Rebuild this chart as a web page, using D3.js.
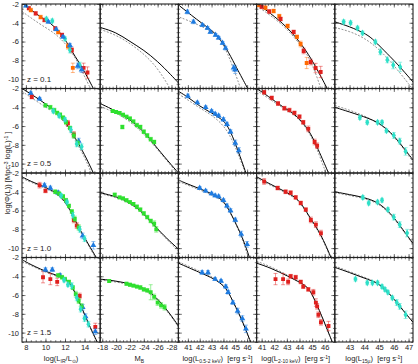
<!DOCTYPE html>
<html>
<head>
<meta charset="utf-8">
<script src="https://cdn.jsdelivr.net/npm/d3@7"></script>
<style>
  body { margin: 0; background: #fff; }
  svg { font-family: "Liberation Sans", Arial, sans-serif; }
</style>
</head>
<body>
<svg width="418" height="364"></svg>
<script>
// redshift rows and axis ticks
var redshifts = ["z = 0.1", "z = 0.5", "z = 1.0", "z = 1.5"];
var yTicks = [-2, -4, -6, -8, -10];
var xTicks = [
    [8, 10, 12, 14],
    [-18, -20, -22, -24, -26, -28],
    [41, 42, 43, 44, 45, 46],
    [41, 42, 43, 44, 45, 46],
    [43, 44, 45, 46, 47]
];

// model curves [x, logPhi], one list per row (z=0.1, 0.5, 1.0, 1.5)
var irSolid = [
    [[7.6,-1.9],[8.5,-2.6],[9.5,-3.4],[10.5,-4.0],[11.5,-5.0],[12.2,-6.1],[12.8,-7.2],[13.3,-8.0],[14.0,-9.2],[14.9,-11]],
    [[7.6,-2.0],[9,-2.9],[10.5,-4.0],[11.5,-4.8],[12.3,-6.0],[13,-7.2],[14,-9.0],[14.9,-11]],
    [[7.6,-2.4],[8.5,-2.9],[10,-3.5],[11.5,-4.3],[12.5,-5.8],[13.2,-7.4],[14,-8.9],[15.2,-11]],
    [[7.6,-2.2],[8,-2.5],[10,-3.5],[11.5,-4.0],[12.5,-4.6],[13.2,-6.1],[13.9,-7.8],[14.6,-9.5],[15.3,-11]]
];
var irDashed = [
    [[7.6,-2.8],[9.5,-4.2],[10.5,-4.8],[11.5,-5.6],[12.5,-6.8],[13.3,-8.2],[14.0,-9.7],[14.6,-11]],
    [[7.6,-2.3],[9,-3.3],[10.5,-4.3],[11.5,-5.0],[12.3,-6.2],[13,-7.4],[14,-9.3],[14.7,-11]],
    [[7.6,-2.55],[8.5,-3.0],[10,-3.6],[11.5,-4.4],[12.5,-5.9],[13.2,-7.5],[14,-9.0],[15.1,-11]],
    [[7.6,-2.4],[10,-3.6],[11.5,-4.1],[12.5,-4.7],[13.2,-6.2],[14.6,-9.6],[15.25,-11]]
];
var mbSolid = [
    [[-17.7,-4.5],[-20,-5.0],[-22,-6.0],[-24,-6.9],[-26,-8.1],[-28,-9.6],[-29,-10.4]],
    [[-17.7,-3.6],[-20,-4.4],[-22,-5.3],[-24,-6.6],[-25,-7.5],[-27,-9.3],[-29,-11]],
    [[-17.7,-4.1],[-20,-4.5],[-22,-5.1],[-24,-6.3],[-26,-8.0],[-27.8,-9.3],[-29,-10.1]],
    [[-17.7,-4.3],[-20,-4.5],[-22,-4.8],[-23.5,-5.1],[-25,-5.7],[-26.5,-6.8],[-28,-8.2],[-29,-9.3]]
];
var mbDashed = [
    [[-17.7,-4.7],[-20,-5.3],[-22,-6.2],[-24,-7.3],[-26,-8.8],[-27.8,-11]],
    [[-17.7,-3.9],[-20,-4.6],[-22,-5.5],[-24,-6.8],[-26,-8.5],[-28.8,-11]],
    [[-17.7,-4.2],[-20,-4.6],[-22,-5.2],[-24,-6.4],[-26,-8.1],[-29,-10.3]],
    [[-17.7,-4.4],[-20,-4.6],[-22,-4.9],[-24,-5.3],[-26,-6.5],[-28,-8.3],[-29,-9.4]]
];
var softSolid = [
    [[40.3,-2.2],[42.3,-4.2],[43.3,-5.0],[44.3,-6.8],[44.9,-8.3],[46.05,-11]],
    [[40.2,-2.3],[41,-2.9],[42,-3.9],[43,-4.6],[43.8,-5.2],[44.4,-6.0],[44.9,-7.5],[45.4,-9.2],[45.9,-11]],
    [[40.2,-2.7],[40.5,-2.95],[42.7,-4.0],[43.8,-4.7],[44.35,-5.6],[44.9,-7.0],[45.6,-8.8],[46.2,-11]],
    [[40.2,-2.6],[42,-3.6],[43.3,-4.3],[44,-5.0],[44.4,-5.6],[44.8,-6.7],[45.3,-7.9],[45.8,-9.4],[46.3,-11]]
];
var softDashed = [
    [[40.3,-3.4],[41.5,-4.0],[42.5,-4.6],[43.4,-5.2],[44.3,-6.9],[45.45,-11]],
    [[40.2,-2.6],[41,-3.2],[42,-4.1],[43,-4.8],[44.4,-6.3],[45.5,-9.8],[45.85,-11]],
    [[40.2,-2.9],[42.7,-4.15],[43.8,-4.8],[44.35,-5.7],[45,-7.3],[45.6,-9.0],[46.1,-11]],
    [[40.2,-2.45],[42,-3.45],[43.3,-4.2],[44,-4.95],[44.5,-5.8],[45.8,-9.4],[46.25,-11]]
];
var hardSolid = [
    [[40.6,-1.9],[41.7,-3.0],[43,-4.4],[44.3,-6.5],[45.1,-8.2],[46.2,-11]],
    [[40.6,-2.0],[41.5,-2.8],[42.7,-4.0],[43.5,-4.6],[44.2,-5.5],[44.8,-6.6],[45.3,-7.9],[46.3,-11]],
    [[40.6,-2.4],[41.7,-3.2],[42.9,-4.0],[43.7,-4.6],[44.1,-5.2],[44.5,-6.0],[44.9,-6.9],[45.7,-8.5],[46.5,-11]],
    [[40.6,-2.6],[41.7,-3.1],[43.1,-4.0],[44.1,-4.7],[44.7,-5.2],[45.1,-6.2],[45.7,-8.0],[46.6,-11]]
];
var hardDashed = [
    [[40.6,-2.2],[41.7,-3.2],[43,-4.6],[44.3,-6.7],[45,-8.3],[45.7,-11]],
    [[40.6,-2.2],[41.5,-3.0],[42.7,-4.1],[43.5,-4.7],[44.2,-5.6],[44.8,-6.8],[45.3,-8.1],[46.1,-11]],
    [[40.6,-2.55],[41.7,-3.3],[42.9,-4.1],[43.7,-4.7],[44.1,-5.3],[44.5,-6.1],[44.9,-7.0],[45.7,-8.6],[46.45,-11]],
    [[40.6,-2.4],[41.7,-2.95],[43.1,-3.9],[44.1,-4.65],[44.7,-5.2],[45.1,-6.2],[45.7,-8.0],[46.6,-11]]
];
var midSolid = [
    [[42,-3.9],[43,-4.4],[44,-5.1],[44.5,-5.6],[45.3,-6.9],[46.2,-8.3],[47.3,-10.3]],
    [[42,-4.0],[42.6,-4.3],[44,-5.0],[45.1,-5.7],[46,-7.0],[46.6,-8.2],[47.3,-9.6]],
    [[42,-4.0],[43,-4.3],[44,-4.6],[44.9,-5.1],[45.5,-5.9],[46,-6.7],[46.6,-8.0],[47.3,-9.5]],
    [[42,-3.05],[43,-3.6],[44,-4.2],[44.9,-4.7],[45.4,-5.4],[45.9,-6.2],[46.4,-7.2],[47.3,-8.9]]
];
var midDashed = [
    [[42,-4.5],[43,-4.9],[44,-5.6],[45,-6.8],[46,-8.5],[47.2,-10.9]],
    [[42,-3.8],[43,-4.3],[44,-4.9],[45,-5.7],[46,-7.0],[47.3,-9.8]],
    [[42,-4.1],[43,-4.4],[44,-4.7],[44.9,-5.2],[45.5,-6.0],[46,-6.8],[46.6,-8.1],[47.3,-9.6]],
    [[42,-2.9],[43,-3.5],[44,-4.1],[44.9,-4.65],[45.4,-5.35],[45.9,-6.15],[46.4,-7.15],[47.3,-8.9]]
];

// observed points [x, logPhi, error, survey]
var irPoints = [
    [[8.3,-2.45,0.15,"r"],[9.0,-3.0,0.2,"r"],[9.9,-3.7,0.2,"r"],[11.0,-4.6,0.2,"r"],[11.7,-5.3,0.2,"r"],[12.7,-6.9,0.3,"r"],[13.9,-8.8,0.5,"r"],[14.3,-9.3,0.6,"r"],
     [8.5,-2.65,0.2,"o"],[9.5,-3.4,0.2,"o"],[11.3,-5.0,0.2,"o"],[12.3,-6.5,0.3,"o"],[12.8,-8.8,0.5,"o"],
     [10.1,-3.6,0.2,"c"],[10.7,-3.8,0.2,"c"],[12.0,-5.7,0.2,"c"],[12.5,-6.9,0.3,"c"],[13.5,-8.5,0.3,"c"],
     [8.0,-2.2,0.1,"b"],[10.3,-3.9,0.15,"b"],[11.1,-4.7,0.15,"b"],[11.8,-5.5,0.15,"b"],[12.5,-6.4,0.2,"b"],[13.3,-8.6,0.3,"b"],[13.7,-9.0,0.3,"b"]],
    [[8.5,-2.5,0.15,"b"],[9.4,-3.1,0.15,"b"],[13.4,-7.6,0.3,"b"],
     [8.6,-2.9,0.2,"r"],[12.3,-5.7,0.3,"r"],[12.9,-6.9,0.3,"r"],
     [10.0,-3.8,0.2,"g"],[10.5,-4.0,0.2,"g"],[10.9,-4.3,0.2,"g"],[11.2,-4.6,0.2,"g"],[11.5,-4.8,0.2,"g"],[11.8,-5.1,0.2,"g"],[12.1,-5.6,0.2,"g"],[12.5,-6.2,0.2,"g"],[12.9,-7.0,0.3,"g"],[13.3,-7.8,0.3,"g"],
     [10.8,-4.4,0.2,"c"],[11.4,-4.9,0.2,"c"],[12.0,-5.3,0.2,"c"],[12.6,-6.4,0.3,"c"],[13.2,-7.9,0.3,"c"],[13.7,-8.2,0.3,"c"]],
    [[9.4,-3.3,0.3,"r"],[10.0,-3.9,0.2,"r"],[12.9,-7.0,0.3,"r"],[13.2,-7.6,0.3,"r"],
     [9.9,-3.3,0.2,"b"],[10.5,-3.6,0.2,"b"],[11.3,-4.1,0.2,"b"],[13.8,-8.7,0.3,"b"],[14.9,-9.7,0.4,"b"],
     [11.0,-4.0,0.2,"g"],[11.4,-4.2,0.2,"g"],[11.8,-4.5,0.2,"g"],[12.1,-4.9,0.2,"g"],[12.4,-5.5,0.2,"g"],[12.7,-6.1,0.2,"g"],[13.0,-6.9,0.3,"g"],[13.4,-7.8,0.3,"g"],
     [11.6,-4.4,0.2,"c"],[12.2,-5.1,0.2,"c"],[12.8,-6.5,0.3,"c"],[13.5,-8.0,0.3,"c"],[14.0,-9.0,0.3,"c"]],
    [[9.75,-4.1,0.6,"r"],[10.5,-4.3,0.6,"r"],[11.2,-4.6,0.4,"r"],[13.5,-6.1,0.3,"r"],[15.1,-9.4,0.4,"r"],
     [10.0,-3.3,0.2,"b"],[10.7,-3.3,0.2,"b"],[11.5,-3.9,0.2,"b"],[13.8,-7.3,0.3,"b"],[14.1,-8.3,0.3,"b"],[15.1,-9.9,0.3,"b"],
     [11.3,-3.9,0.2,"g"],[11.7,-4.1,0.2,"g"],[12.0,-4.3,0.2,"g"],[12.4,-4.6,0.2,"g"],[12.8,-5.2,0.2,"g"],[13.1,-5.9,0.3,"g"],[13.4,-6.6,0.3,"g"],[13.7,-7.2,0.3,"g"],
     [11.9,-4.4,0.2,"c"],[12.3,-4.9,0.2,"c"],[12.7,-5.0,0.3,"c"],[13.2,-6.3,0.3,"c"],[13.6,-7.5,0.3,"c"],[14.0,-8.5,0.3,"c"],[14.4,-9.1,0.3,"c"]]
];
var mbPoints = [
    [],
    [[-19.5,-4.4,0.15,"g"],[-20,-4.5,0.15,"g"],[-20.5,-4.6,0.15,"g"],[-20.9,-6.1,0.2,"g"],[-21,-4.8,0.15,"g"],[-21.5,-5.0,0.15,"g"],[-22,-5.2,0.15,"g"],[-22.5,-5.5,0.15,"g"],[-23,-5.9,0.2,"g"],[-23.5,-6.1,0.2,"g"],[-24,-6.6,0.2,"g"],[-24.5,-7.0,0.2,"g"],[-25,-7.4,0.2,"g"],[-25.5,-7.7,0.2,"g"]],
    [[-19.8,-4.3,0.15,"g"],[-20.5,-4.6,0.15,"g"],[-21,-4.7,0.15,"g"],[-21.5,-4.9,0.15,"g"],[-22,-5.1,0.15,"g"],[-22.5,-5.3,0.15,"g"],[-23,-5.6,0.2,"g"],[-23.5,-5.9,0.2,"g"],[-24,-6.3,0.2,"g"],[-24.5,-6.7,0.2,"g"],[-25,-7.1,0.2,"g"],[-25.5,-7.4,0.3,"g"],[-25.8,-8.0,0.3,"g"]],
    [[-19,-4.5,0.15,"g"],[-21.5,-4.8,0.15,"g"],[-22,-4.9,0.15,"g"],[-22.5,-5.0,0.15,"g"],[-23,-5.1,0.15,"g"],[-23.5,-5.2,0.2,"g"],[-24,-5.4,0.2,"g"],[-24.5,-5.5,0.2,"g"],[-25,-5.7,0.8,"g"],[-25.5,-6.2,0.3,"g"],[-26,-6.8,0.3,"g"],[-26.5,-7.1,0.3,"g"],[-27,-7.3,0.3,"g"]]
];
var softPoints = [
    [[40.96,-2.85,0.2,"b"],[41.47,-3.9,0.2,"b"],[42.23,-4.24,0.15,"b"],[42.66,-4.56,0.15,"b"],[42.9,-4.98,0.15,"b"],[43.34,-5.3,0.15,"b"],[43.6,-5.6,0.15,"b"],[43.93,-6.15,0.15,"b"],[44.18,-6.7,0.2,"b"],[44.86,-8.8,0.3,"b"],[45.0,-9.0,0.4,"b"]],
    [[41.0,-2.8,0.2,"b"],[41.8,-3.5,0.15,"b"],[42.5,-4.0,0.15,"b"],[43.0,-4.4,0.15,"b"],[43.3,-4.7,0.15,"b"],[43.6,-4.9,0.15,"b"],[44,-5.3,0.2,"b"],[44.3,-5.8,0.2,"b"],[44.6,-6.6,0.2,"b"],[45.0,-7.8,0.3,"b"],[45.3,-8.6,0.3,"b"]],
    [[42.0,-3.6,0.15,"b"],[42.5,-3.9,0.15,"b"],[43.0,-4.2,0.15,"b"],[43.3,-4.4,0.15,"b"],[43.6,-4.5,0.15,"b"],[44.0,-4.9,0.15,"b"],[44.3,-5.5,0.2,"b"],[44.6,-6.0,0.2,"b"],[45.0,-7.0,0.2,"b"],[45.5,-8.5,0.3,"b"],[46,-9.6,0.3,"b"]],
    [[42.2,-3.6,0.2,"b"],[42.7,-3.6,0.2,"b"],[43.3,-4.3,0.15,"b"],[43.8,-4.5,0.15,"b"],[44.2,-5.1,0.2,"b"],[44.4,-5.7,0.2,"b"],[44.8,-6.8,0.2,"b"],[45.2,-7.7,0.3,"b"],[45.6,-8.5,0.3,"b"],[45.9,-9.6,0.4,"b"]]
];
var hardPoints = [
    [[40.8,-2.1,0.2,"o"],[41.3,-2.4,0.2,"o"],[41.95,-2.75,0.2,"o"],[43.06,-4.34,0.2,"o"],[44.09,-6.26,0.3,"o"],[44.57,-8.28,0.6,"o"],[42.4,-3.3,0.2,"o"],[43.8,-5.5,0.2,"o"],
     [41.0,-2.3,0.2,"r"],[41.6,-2.8,0.2,"r"],[42.5,-3.6,0.2,"r"],[43.54,-4.98,0.2,"r"],[44.33,-7.0,0.3,"r"],[44.89,-8.18,0.3,"r"],[45.28,-8.82,0.5,"r"],[45.68,-9.24,0.6,"r"]],
    [[41.2,-2.4,0.2,"r"],[41.8,-3.0,0.2,"r"],[42.3,-3.6,0.2,"r"],[42.8,-4.1,0.2,"r"],[43.2,-4.3,0.2,"r"],[43.6,-4.6,0.2,"r"],[44.0,-5.0,0.2,"r"],[44.3,-5.6,0.2,"r"],[44.7,-6.3,0.3,"r"],[45.2,-7.7,0.3,"r"],[45.4,-8.1,0.3,"r"]],
    [[41.2,-2.9,0.3,"r"],[42.27,-3.6,0.2,"r"],[42.9,-4.0,0.2,"r"],[43.3,-4.1,0.2,"r"],[43.7,-4.6,0.2,"r"],[44.1,-5.2,0.2,"r"],[44.5,-5.9,0.2,"r"],[44.9,-7.0,0.3,"r"],[45.3,-7.5,0.3,"r"],[45.7,-8.4,0.3,"r"]],
    [[42.1,-4.3,0.6,"r"],[42.7,-4.3,0.6,"r"],[43.1,-4.6,0.3,"r"],[43.3,-4.0,0.2,"r"],[43.7,-4.1,0.2,"r"],[44.1,-4.6,0.2,"r"],[44.3,-5.1,0.2,"r"],[44.7,-5.4,0.2,"r"],[45.1,-5.7,0.3,"r"],[45.3,-6.8,0.4,"r"],[45.4,-7.2,0.3,"r"],[45.5,-8.1,0.3,"r"],[45.7,-8.9,0.3,"r"],[46.3,-9.3,0.5,"r"]]
];
var midPoints = [
    [[42.6,-3.9,0.2,"c"],[43.07,-4.0,0.2,"c"],[43.54,-4.56,0.2,"c"],[43.88,-5.09,0.2,"c"],[44.75,-6.04,0.2,"c"],[45.09,-7.1,0.3,"c"],[45.56,-7.96,0.3,"c"],[45.96,-8.5,0.4,"c"],[46.43,-8.7,0.5,"c"]],
    [[43.7,-5.1,0.2,"c"],[44.2,-5.6,0.2,"c"],[44.9,-5.6,0.2,"c"],[45.2,-5.6,0.2,"c"],[45.5,-6.5,0.2,"c"],[46.0,-7.0,0.3,"c"],[46.4,-7.6,0.3,"c"],[46.8,-8.7,0.4,"c"]],
    [[43.9,-4.6,0.2,"c"],[44.3,-5.2,0.2,"c"],[44.9,-5.1,0.2,"c"],[45.2,-4.9,0.2,"c"],[45.6,-5.9,0.2,"c"],[46.0,-6.7,0.3,"c"],[46.4,-7.5,0.3,"c"],[46.9,-8.4,0.4,"c"]],
    [[43.4,-4.3,0.2,"c"],[44.2,-4.7,0.2,"c"],[44.55,-4.7,0.2,"c"],[44.9,-4.7,0.2,"c"],[45.2,-5.1,0.2,"c"],[45.4,-5.4,0.2,"c"],[45.6,-5.7,0.2,"c"],[45.9,-6.3,0.2,"c"],[46.2,-6.8,0.3,"c"],[46.4,-7.2,0.3,"c"],[46.8,-8.1,0.4,"c"]]
];

var columns = [
    {solid: irSolid, dashed: irDashed, points: irPoints, domain: [7.6, 15.6], minor: 0.5},
    {solid: mbSolid, dashed: mbDashed, points: mbPoints, domain: [-17.7, -29], minor: 0.5},
    {solid: softSolid, dashed: softDashed, points: softPoints, domain: [40.2, 46.8], minor: 0.25},
    {solid: hardSolid, dashed: hardDashed, points: hardPoints, domain: [40.6, 46.8], minor: 0.25},
    {solid: midSolid, dashed: midDashed, points: midPoints, domain: [42, 47.3], minor: 0.25}
];

var surveyStyle = {
    r: {color: "#e0201e", symbol: d3.symbolSquare},
    o: {color: "#ff6a00", symbol: d3.symbolSquare},
    b: {color: "#1e7be0", symbol: d3.symbolTriangle},
    c: {color: "#2ee0c8", symbol: d3.symbolDiamond},
    g: {color: "#2ee02e", symbol: d3.symbolSquare}
};

function main() {
    var svg = d3.select("svg");
    var gLeft = 22, gRight = 413, gTop = 4, gBottom = 342;
    var colW = (gRight - gLeft) / 5, rowH = (gBottom - gTop) / 4;

    function steps(a, b, step) {
        var out = [];
        var n = Math.floor((b - a) / step + 1e-6);
        for (var i = 0; i <= n; i++) out.push(+(a + i * step).toFixed(3));
        return out;
    }

    columns.forEach(function (col, ci) {
        var x0 = gLeft + ci * colW;
        var x = d3.scaleLinear().domain(col.domain).range([x0, x0 + colW]);
        var lo = Math.min(col.domain[0], col.domain[1]);
        var hi = Math.max(col.domain[0], col.domain[1]);
        var xMinor = steps(Math.ceil(lo / col.minor) * col.minor, hi, col.minor);

        redshifts.forEach(function (zlab, ri) {
            var y0 = gTop + ri * rowH;
            var y = d3.scaleLinear().domain([-11, -2]).range([y0 + rowH, y0]);
            var g = svg.append("g");
            var clipId = "clip" + ci + "_" + ri;
            svg.append("clipPath").attr("id", clipId)
                .append("rect").attr("x", x0).attr("y", y0).attr("width", colW).attr("height", rowH);

            var plot = g.append("g").attr("clip-path", "url(#" + clipId + ")");
            var line = d3.line()
                .x(function (d) { return x(d[0]); })
                .y(function (d) { return y(d[1]); })
                .curve(d3.curveBasis);

            plot.append("path").datum(col.dashed[ri])
                .attr("d", line).attr("fill", "none")
                .attr("stroke", "#666").attr("stroke-width", 0.7)
                .attr("stroke-dasharray", "2,1.5");
            plot.append("path").datum(col.solid[ri])
                .attr("d", line).attr("fill", "none")
                .attr("stroke", "#000").attr("stroke-width", 1);

            var pts = plot.selectAll(".pt").data(col.points[ri]).enter().append("g");
            pts.append("line")
                .attr("x1", function (d) { return x(d[0]); })
                .attr("x2", function (d) { return x(d[0]); })
                .attr("y1", function (d) { return y(d[1] - d[2]); })
                .attr("y2", function (d) { return y(d[1] + d[2]); })
                .attr("stroke", function (d) { return surveyStyle[d[3]].color; })
                .attr("stroke-opacity", 0.6).attr("stroke-width", 0.8);
            [1, -1].forEach(function (s) {
                pts.append("line")
                    .attr("x1", function (d) { return x(d[0]) - 2; })
                    .attr("x2", function (d) { return x(d[0]) + 2; })
                    .attr("y1", function (d) { return y(d[1] + s * d[2]); })
                    .attr("y2", function (d) { return y(d[1] + s * d[2]); })
                    .attr("stroke", function (d) { return surveyStyle[d[3]].color; })
                    .attr("stroke-opacity", 0.6).attr("stroke-width", 0.8);
            });
            pts.append("path")
                .attr("transform", function (d) { return "translate(" + x(d[0]) + "," + y(d[1]) + ")"; })
                .attr("d", function (d) { return d3.symbol().type(surveyStyle[d[3]].symbol).size(15)(); })
                .attr("fill", function (d) { return surveyStyle[d[3]].color; });

            // inward ticks on all four sides
            var fmt = function (d) { return String(d); };
            g.append("g").attr("transform", "translate(0," + (y0 + rowH) + ")")
                .call(d3.axisBottom(x).tickValues(xTicks[ci]).tickSize(-3.5)
                    .tickFormat(ri === 3 ? fmt : "").tickPadding(3));
            g.append("g").attr("transform", "translate(0," + y0 + ")")
                .call(d3.axisTop(x).tickValues(xTicks[ci]).tickSize(-3.5).tickFormat(""));
            g.append("g").attr("transform", "translate(0," + (y0 + rowH) + ")")
                .call(d3.axisBottom(x).tickValues(xMinor).tickSize(-1.8).tickFormat(""));
            g.append("g").attr("transform", "translate(0," + y0 + ")")
                .call(d3.axisTop(x).tickValues(xMinor).tickSize(-1.8).tickFormat(""));

            var yMinor = steps(-11, -2, 0.5);
            g.append("g").attr("transform", "translate(" + x0 + ",0)")
                .call(d3.axisLeft(y).tickValues(yTicks).tickSize(-3.5)
                    .tickFormat(ci === 0 ? fmt : "").tickPadding(3));
            g.append("g").attr("transform", "translate(" + (x0 + colW) + ",0)")
                .call(d3.axisRight(y).tickValues(yTicks).tickSize(-3.5).tickFormat(""));
            g.append("g").attr("transform", "translate(" + x0 + ",0)")
                .call(d3.axisLeft(y).tickValues(yMinor).tickSize(-1.8).tickFormat(""));
            g.append("g").attr("transform", "translate(" + (x0 + colW) + ",0)")
                .call(d3.axisRight(y).tickValues(yMinor).tickSize(-1.8).tickFormat(""));

            g.selectAll(".domain").remove();
            g.selectAll(".tick line").attr("stroke", "#222").attr("stroke-width", 0.6);
            g.selectAll(".tick text").attr("font-size", 7.5).attr("fill", "#222")
                .attr("font-family", "Liberation Sans, Arial, sans-serif");

            g.append("rect").attr("x", x0).attr("y", y0).attr("width", colW).attr("height", rowH)
                .attr("fill", "none").attr("stroke", "#222").attr("stroke-width", 1.1);

            if (ci === 0) {
                g.append("text").attr("x", x0 + 5).attr("y", y0 + rowH - 7)
                    .attr("font-size", 8).attr("fill", "#222").text(zlab);
            }
        });
    });

    // axis titles: [text, 0 normal | 1 subscript | 2 superscript]
    var titles = [
        [["log(L", 0], ["IR", 1], ["/L", 0], ["\u2299", 1], [")", 0]],
        [["M", 0], ["B", 1]],
        [["log(L", 0], ["0.5-2 keV", 1], [")  [erg s", 0], ["-1", 2], ["]", 0]],
        [["log(L", 0], ["2-10 keV", 1], [")  [erg s", 0], ["-1", 2], ["]", 0]],
        [["log(L", 0], ["15\u03bc", 1], [")  [erg s", 0], ["-1", 2], ["]", 0]]
    ];
    var shift = [0, 1.5, -2.5];
    titles.forEach(function (parts, ci) {
        var t = svg.append("text")
            .attr("x", gLeft + (ci + 0.5) * colW).attr("y", 361)
            .attr("text-anchor", "middle").attr("font-size", 7.5).attr("fill", "#222")
            .attr("xml:space", "preserve");
        var prev = 0;
        parts.forEach(function (p) {
            var ts = t.append("tspan").text(p[0]).attr("dy", shift[p[1]] - prev);
            if (p[1] > 0) ts.attr("font-size", 5);
            prev = shift[p[1]];
        });
    });

    var yt = svg.append("text")
        .attr("transform", "translate(10," + ((gTop + gBottom) / 2) + ") rotate(-90)")
        .attr("text-anchor", "middle").attr("font-size", 7.5).attr("fill", "#222");
    var yparts = [["log(\u03a6(L)) [Mpc", 0], ["-3", 2], [" log(L)", 0], ["-1", 2], [" ]", 0]];
    var prev = 0;
    yparts.forEach(function (p) {
        var ts = yt.append("tspan").text(p[0]).attr("dy", shift[p[1]] - prev);
        if (p[1] > 0) ts.attr("font-size", 5);
        prev = shift[p[1]];
    });
}
main();
</script>
</body>
</html>
